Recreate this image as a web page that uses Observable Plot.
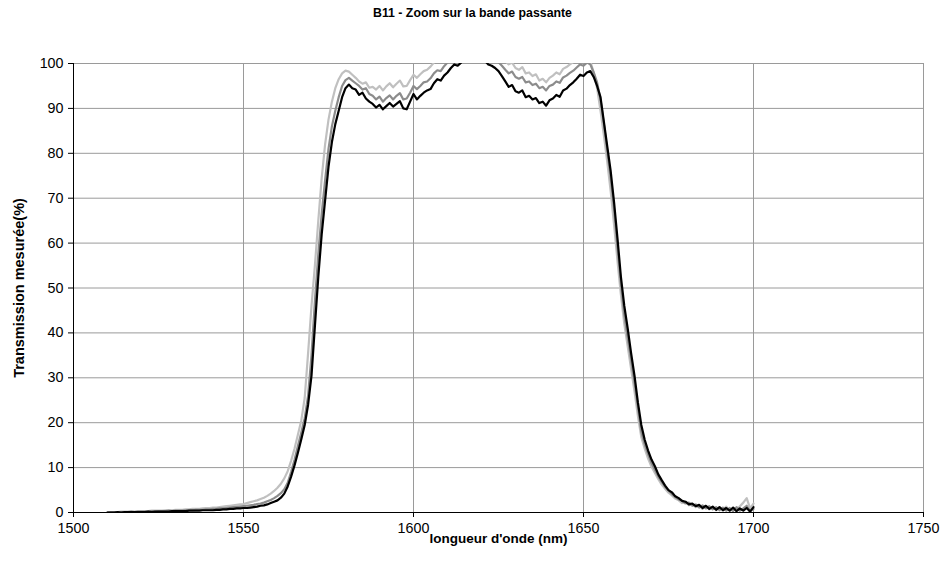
<!DOCTYPE html>
<html>
<head>
<meta charset="utf-8">
<script src="https://cdn.jsdelivr.net/npm/d3@7"></script>
<script src="https://cdn.jsdelivr.net/npm/@observablehq/plot@0.6"></script>
<style>
  html, body { margin: 0; padding: 0; background: #fff; }
  #wrap { width: 945px; height: 574px; position: relative; font-family: "Liberation Sans", Arial, sans-serif; }
  #title { height: 40px; line-height: 26px; text-align: center; font-weight: bold; font-size: 12.3px; color: #000; }
  svg { display: block; }
</style>
</head>
<body>
<div id="wrap">
  <div id="title">B11 - Zoom sur la bande passante</div>
  <div id="chart"></div>
</div>
<script>
const titleText = "B11 - Zoom sur la bande passante";
const xLabel = "longueur d'onde (nm)";
const yLabel = "Transmission mesurée(%)";
const xTicks = [1500, 1550, 1600, 1650, 1700, 1750];
const yTicks = [0, 10, 20, 30, 40, 50, 60, 70, 80, 90, 100];

// wavelengths 1510..1700 nm, 1 nm step
const wavelength = d3.range(1510, 1701);

// black series (lowest plateau)
const serieNoire = [
  0.0,0.0,0.0,0.1,0.0,0.1,0.1,0.1,0.1,0.1,
  0.1,0.1,0.2,0.1,0.2,0.2,0.2,0.2,0.2,0.3,
  0.3,0.3,0.3,0.3,0.4,0.4,0.4,0.4,0.5,0.5,
  0.5,0.5,0.6,0.6,0.7,0.7,0.8,0.8,0.9,0.9,
  1.0,1.0,1.1,1.2,1.3,1.5,1.6,1.8,2.1,2.4,
  2.7,3.3,4.2,5.8,8.0,10.5,13.3,16.3,19.5,24.0,
  30.5,41.5,52.5,62.0,69.5,77.0,82.5,86.5,89.5,92.5,
  94.5,95.3,94.5,94.2,93.0,93.5,92.2,91.5,91.0,90.2,
  90.8,89.8,90.5,91.2,90.4,91.0,91.6,90.0,89.8,91.5,
  93.2,92.0,92.8,93.5,94.0,94.3,95.6,96.5,96.2,97.3,
  98.0,99.0,99.8,99.5,100.2,101,102,102.5,102.5,102,
  101.5,100.6,99.8,99.5,99.0,98.3,97.2,96.0,94.8,95.2,
  93.8,93.5,94.0,92.5,92.8,92.0,92.3,91.2,91.5,90.6,
  91.8,92.2,93.0,92.6,94.0,94.4,95.2,95.8,96.6,97.5,
  97.2,98.0,98.3,97.0,95.0,92.5,87.0,81.5,76.0,69.0,
  61.0,52.5,46.0,41.0,35.5,30.5,24.5,19.5,16.2,13.8,
  11.8,10.3,8.5,7.2,6.0,5.0,4.5,3.6,3.2,2.6,
  2.4,1.8,2.0,1.4,1.7,1.0,1.5,0.8,1.3,0.6,
  1.2,0.5,1.0,0.4,1.1,0.3,0.9,0.4,1.0,0.2,
  1.2
];

// mid-grey series
const serieGrise = [
  0.0,0.1,0.1,0.1,0.1,0.1,0.1,0.2,0.1,0.2,
  0.2,0.2,0.2,0.3,0.2,0.3,0.3,0.3,0.4,0.3,
  0.4,0.4,0.4,0.5,0.5,0.5,0.6,0.6,0.6,0.7,
  0.7,0.8,0.8,0.9,0.9,1.0,1.1,1.2,1.2,1.3,
  1.4,1.5,1.6,1.7,1.9,2.0,2.2,2.5,2.8,3.2,
  3.7,4.3,5.2,6.6,9.0,11.7,14.8,17.8,21.0,26.0,
  35.0,47.0,57.5,66.5,74.0,81.0,86.0,89.5,92.5,95.0,
  96.3,96.8,96.2,95.6,95.0,94.2,94.5,93.2,92.8,92.0,
  92.6,91.5,92.3,92.9,92.0,92.8,93.4,92.0,92.2,93.5,
  95.0,94.3,95.0,95.8,96.0,96.7,97.8,98.5,98.3,99.4,
  100.2,101,101.8,102,102.5,103,103.5,104,104,103.5,
  103,102.5,102,101.5,101,100.3,99.5,98.6,97.8,98.2,
  97.0,96.6,97.0,95.8,96.0,95.2,95.5,94.5,94.8,94.0,
  95.0,95.3,96.0,95.7,96.9,97.3,97.9,98.4,99.1,99.8,
  99.5,100.2,99.8,98.0,95.8,92.0,86.5,80.5,74.5,67.5,
  59.0,51.0,44.0,39.0,34.0,29.0,23.5,18.0,15.2,13.0,
  11.0,9.5,8.0,6.8,5.7,4.9,4.1,3.5,2.9,2.6,
  2.0,2.2,1.5,1.8,1.1,1.6,0.9,1.4,0.7,1.2,
  0.5,1.1,0.4,1.0,0.3,1.2,0.4,0.9,1.5,0.3,
  0.8
];

// light-grey series (highest plateau)
const serieClaire = [
  0.1,0.1,0.1,0.1,0.2,0.2,0.2,0.2,0.2,0.3,
  0.3,0.3,0.3,0.4,0.4,0.4,0.4,0.5,0.5,0.5,
  0.6,0.6,0.6,0.7,0.7,0.8,0.8,0.8,0.9,1.0,
  1.0,1.1,1.1,1.2,1.3,1.4,1.5,1.6,1.7,1.8,
  1.9,2.1,2.3,2.5,2.7,3.0,3.3,3.7,4.2,4.8,
  5.5,6.4,7.6,9.2,11.5,14.2,17.3,20.5,25.5,35.5,
  46.0,55.0,65.0,74.5,82.0,87.5,91.5,94.5,96.5,97.8,
  98.4,98.2,97.5,96.8,96.0,95.5,95.8,94.6,94.8,94.2,
  95.0,94.0,94.9,95.6,94.7,95.5,96.2,94.9,95.0,96.3,
  97.5,96.8,97.6,98.3,98.6,99.3,100.2,101,101.2,102,
  102.5,103,103.5,104,104.5,105,105,105,104.5,104,
  104,103.5,103,102.5,102,101.5,101,100.5,99.8,100.2,
  99.0,98.6,99.2,97.8,98.0,97.2,97.6,96.2,96.6,95.8,
  96.8,97.3,98.0,97.6,98.8,99.2,99.8,100.3,100.8,101.2,
  101,101.5,100.5,98.0,94.5,89.5,84.0,78.0,71.5,64.0,
  56.0,48.5,42.0,37.0,32.0,27.0,21.5,16.8,14.2,12.0,
  10.2,8.8,7.4,6.2,5.3,4.4,3.8,3.1,2.7,2.1,
  2.4,1.6,1.9,1.2,1.6,0.8,1.3,0.7,1.2,0.5,
  1.1,0.6,1.3,0.4,1.0,0.5,1.4,2.2,3.2,0.9,
  2.0
];

const seriesColors = ["#c0c0c0", "#8c8c8c", "#000000"];
const toRows = (vals) => vals.map((v, i) => ({w: wavelength[i], t: v}));

const chart = Plot.plot({
  width: 945,
  height: 534,
  marginLeft: 73,
  marginRight: 22,
  marginTop: 23,
  marginBottom: 62,
  style: {fontFamily: "'Liberation Sans', Arial, sans-serif", fontSize: "14.3px", color: "#000", background: "#fff"},
  x: {domain: [1500, 1750]},
  y: {domain: [0, 100]},
  marks: [
    Plot.gridX(xTicks, {stroke: "#9a9a9a", strokeOpacity: 1, strokeWidth: 1}),
    Plot.gridY(yTicks, {stroke: "#9a9a9a", strokeOpacity: 1, strokeWidth: 1}),
    Plot.line(toRows(serieClaire), {x: "w", y: "t", stroke: seriesColors[0], strokeWidth: 2.2, clip: true}),
    Plot.line(toRows(serieGrise), {x: "w", y: "t", stroke: seriesColors[1], strokeWidth: 2.2, clip: true}),
    Plot.line(toRows(serieNoire), {x: "w", y: "t", stroke: seriesColors[2], strokeWidth: 2.2, clip: true}),
    Plot.axisX(xTicks, {tickSize: 5, tickPadding: 5, label: null, tickFormat: d => String(d)}),
    Plot.axisY(yTicks, {tickSize: 5, tickPadding: 5, label: null}),
    Plot.ruleY([0], {stroke: "#000"}),
    Plot.ruleX([1500], {stroke: "#000"}),
    Plot.text([xLabel], {text: d => d, frameAnchor: "bottom", lineAnchor: "middle", textAnchor: "middle", dy: 26, fontWeight: "bold", fontSize: 13.5}),
    Plot.text([yLabel], {text: d => d, frameAnchor: "left", textAnchor: "middle", lineAnchor: "middle", dx: -54, rotate: -90, fontWeight: "bold", fontSize: 14.5})
  ]
});
document.getElementById("chart").appendChild(chart);
document.getElementById("title").textContent = titleText;
</script>
</body>
</html>
